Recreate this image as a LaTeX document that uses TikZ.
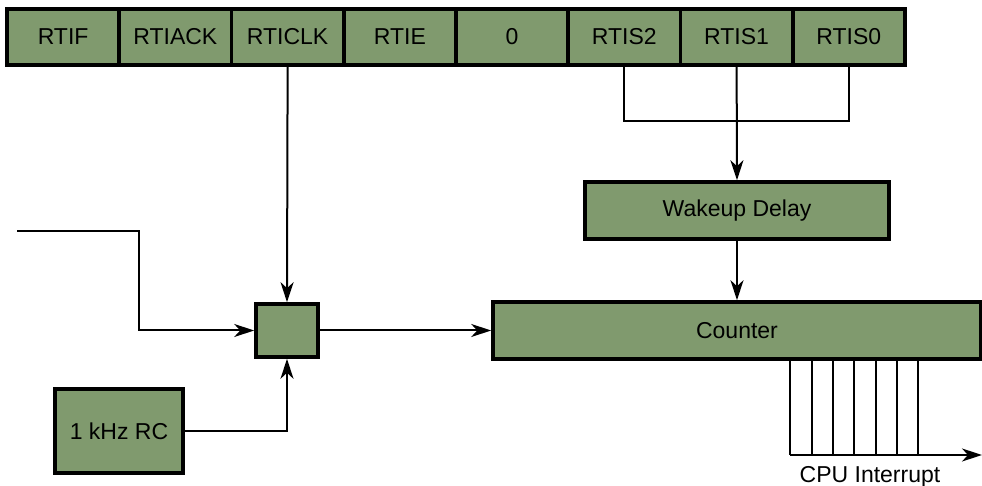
\documentclass[tikz,border=0pt]{standalone}
\usepackage{fontspec}
\setmainfont{Liberation Sans}
\usetikzlibrary{arrows.meta}
\definecolor{blockgreen}{RGB}{128,154,110}
\tikzset{
  block/.style={draw=black, line width=1.8pt, fill=blockgreen, inner sep=0pt,
    font=\fontsize{11.5}{13.8}\selectfont},
  cell/.style={block, minimum width=56.1pt, minimum height=28pt},
  wire/.style={line width=1pt},
  arr/.style={wire, -{Stealth[length=10pt,width=6.5pt,inset=3pt]}},
}
\begin{document}
\begin{tikzpicture}[x=0.5pt,y=-0.5pt]
\useasboundingbox (0,0) rectangle (982,486);

% control register
\foreach \name/\txt [count=\i from 0] in {c1/RTIF,c2/RTIACK,c3/RTICLK,c4/RTIE,c5/0,c6/RTIS2,c7/RTIS1,c8/RTIS0}
  \node[cell] (\name) at ({7+112.25*(\i+0.5)},37) {\txt};

% blocks
\node[block, minimum width=31pt, minimum height=26.5pt] (gate) at (287,330.5) {};
\node[block, minimum width=64pt, minimum height=42pt] (rc) at (119,431) {1 kHz RC};
\node[block, minimum width=152pt, minimum height=28.5pt] (wake) at (737,210.5) {Wakeup Delay};
\node[block, minimum width=244pt, minimum height=28.5pt] (cnt) at (737,330.5) {Counter};

% helper points
\coordinate (in1) at (17,231);
\coordinate (bend) at (139,231);
\coordinate (join) at (737,121);
\coordinate (bus) at (790,455);
\coordinate (out) at (982,455);

% clock selection
\draw[arr] (c3.south) -- (gate.north);
\draw[arr] (in1) -- (bend) |- (gate.west);
\draw[arr] (rc.east) -| (gate.south);
\draw[arr] (gate.east) -- (cnt.west);

% prescaler select
\draw[wire] (c6.south) |- (join) -| (c8.south);
\draw[arr] (c7.south) -- (wake.north);
\draw[arr] (wake.south) -- (cnt.north);

% counter taps
\foreach \x in {790,812,833,854,876,897,918}
  \draw[wire] (\x,359) -- (\x,455);
\draw[arr] (bus) -- (out);
\node[font=\fontsize{11.5}{13.8}\selectfont] (cpu) at (870,477) {CPU Interrupt};
\end{tikzpicture}
\end{document}
